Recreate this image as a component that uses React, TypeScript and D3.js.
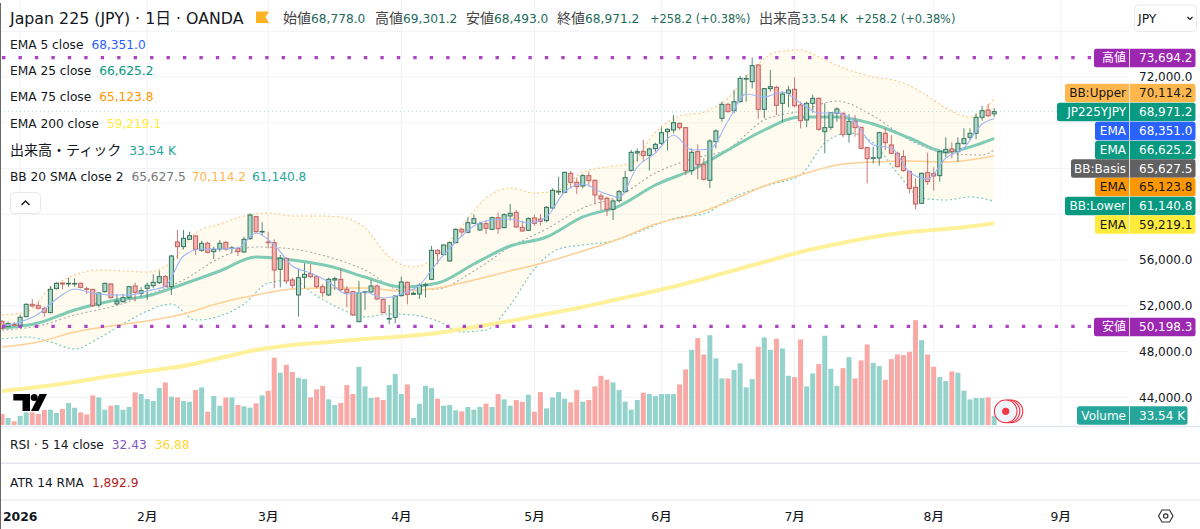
import * as d3 from 'd3'

const FONT = "'DejaVu Sans','Noto Sans CJK JP',sans-serif"
const TEXT = '#131722'
const GRID = '#f0f3f8'
const UP_FILL = '#a9d8c6'
const UP_LINE = '#35735f'
const DOWN_FILL = '#f5b1ad'
const DOWN_LINE = '#c0605f'

const opens = [
  50610, 50173, 50377, 50261, 51048, 52126, 52009, 51747, 51397, 53495, 53991, 53930, 53920, 53962, 53490, 53437, 52068, 53233, 53903, 52155,
  52359, 52738, 53728, 53088, 53525, 53758, 54020, 54544, 53670, 57575, 57167, 57808, 58100, 56847, 57458, 56730, 56963, 57546, 57020, 57021,
  56701, 57866, 59790, 58450, 57570, 57517, 55186, 56147, 54253, 52942, 54486, 54807, 54544, 53670, 52942, 54253, 54311, 53437, 53233, 50610,
  53146, 53204, 53728, 52563, 50850, 50989, 52883, 54049, 53000, 53029, 53800, 54311, 56847, 56468, 55914, 57517, 58682, 58420, 59207, 58624,
  59178, 58682, 59702, 58828, 59848, 60168, 58857, 58595, 59673, 59586, 59440, 60547, 61960, 61917, 63578, 62791, 62470, 63374, 62966, 61598,
  61394, 60432, 61190, 61977, 63842, 65357, 65473, 65153, 65736, 66202, 67222, 67368, 67950, 67571, 63812, 65473, 64337, 62967, 66347, 68387,
  69611, 69057, 69844, 71830, 71593, 73050, 69174, 70981, 71097, 69699, 70573, 70922, 69553, 68242, 69699, 70135, 67221, 67600, 68824, 68824,
  66988, 68125, 67600, 65823, 64900, 64919, 67076, 66056, 65327, 65036, 63725, 62355, 60956, 63637, 63550, 63375, 65415, 65706, 65473, 66172,
  66726, 67076, 68474, 69115, 68778,
]
const highs = [
  50756, 50610, 50581, 51193, 52213, 52592, 52359, 51922, 53728, 54049, 54020, 54457, 54399, 54020, 53670, 53466, 53175, 54020, 53962, 53029,
  53029, 53728, 54020, 53612, 54020, 54748, 55069, 54690, 56439, 58624, 58624, 58478, 58187, 57691, 57604, 57167, 57750, 57662, 57225, 57167,
  58041, 60081, 59848, 59294, 58478, 57808, 56439, 56235, 54457, 55273, 55710, 55652, 54690, 53903, 54457, 54544, 55273, 53728, 53321, 54165,
  53292, 54253, 53845, 52650, 52068, 52942, 54544, 54107, 53233, 53962, 54020, 57225, 56934, 57371, 57604, 58770, 58770, 59731, 59994, 59353,
  59498, 59790, 60139, 60081, 60897, 60372, 59440, 59731, 59964, 60023, 60722, 62267, 63286, 63724, 63782, 63199, 63520, 63724, 63053, 61831,
  61539, 61306, 62122, 63812, 65619, 65765, 66493, 65823, 66260, 67601, 67513, 68679, 68009, 67601, 65765, 66114, 64890, 66552, 67426, 69844,
  69757, 70864, 72088, 72175, 73694, 73137, 71039, 72613, 71214, 70719, 71214, 71972, 69844, 69844, 70427, 70223, 69698, 68911, 69348, 68911,
  68766, 68678, 67658, 65823, 65910, 67221, 67513, 66930, 65473, 65619, 63812, 63142, 63637, 65385, 64103, 65560, 66726, 66289, 66726, 67513,
  67513, 68824, 69465, 69640, 69301,
]
const lows = [
  49940, 50198, 50200, 50173, 50989, 51864, 51689, 51048, 51339, 53437, 53437, 53670, 53670, 53525, 53029, 51922, 51864, 53146, 52650, 52068,
  52272, 52563, 52359, 52796, 52505, 53525, 53903, 53612, 52942, 56089, 56934, 57750, 56439, 56730, 56584, 56089, 56730, 56817, 56643, 56351,
  56643, 57750, 58333, 58187, 57021, 53525, 53612, 53903, 53525, 51048, 53525, 54399, 53525, 52738, 52854, 53379, 53321, 51864, 51106, 50560,
  51630, 53146, 52505, 51339, 50377, 50465, 52796, 52126, 52942, 52592, 52738, 54253, 55623, 56409, 55856, 57458, 58041, 58333, 59149, 58537,
  58274, 58624, 58274, 58770, 59440, 58828, 58478, 58537, 59003, 59003, 59294, 60460, 61684, 61829, 62267, 61771, 62267, 62412, 60897, 60374,
  59849, 59500, 61015, 61889, 63725, 64599, 64599, 63812, 65473, 66056, 65561, 67076, 67368, 63434, 63434, 63055, 62938, 62297, 65765, 68096,
  68883, 68825, 69757, 69844, 71010, 68329, 68387, 70719, 68679, 68096, 69349, 69349, 67513, 67601, 68883, 67309, 65327, 67367, 68096, 66726,
  66260, 66784, 65677, 62705, 64453, 64249, 65619, 65269, 64103, 63725, 61831, 60432, 60898, 62559, 62064, 62850, 64978, 64890, 64599, 66114,
  66493, 66551, 68183, 68474, 68493,
]
const closes = [
  50028, 50436, 50290, 50989, 52126, 51980, 51776, 51426, 53437, 53962, 53903, 53960, 53950, 53612, 53450, 52009, 53117, 53962, 52709, 52388,
  52709, 53670, 53175, 53321, 53787, 54049, 54544, 53670, 56351, 57167, 57896, 58129, 56934, 57458, 56672, 56934, 57458, 56963, 57060, 56730,
  57808, 59935, 58478, 58500, 57530, 55127, 56147, 54165, 53787, 54457, 54748, 54544, 53670, 53146, 54311, 54370, 53408, 53146, 51193, 53146,
  53233, 53728, 52592, 51397, 50890, 52854, 54078, 53000, 53088, 53787, 53840, 56847, 56555, 57313, 57517, 58682, 58449, 59265, 59615, 59178,
  58770, 59702, 58741, 59964, 60081, 58886, 58537, 59615, 59207, 59382, 60606, 62092, 62000, 63665, 62791, 62412, 63374, 62937, 61684, 61335,
  60432, 61161, 61977, 63200, 65415, 65473, 65124, 65707, 66114, 67134, 67426, 68009, 67571, 63812, 65415, 64337, 63055, 66406, 67280, 69611,
  68970, 69844, 71884, 71870, 72991, 69174, 70981, 71156, 69524, 70515, 70864, 69495, 68183, 69699, 70136, 67425, 67571, 68882, 69203, 66959,
  68125, 67571, 65764, 64861, 64940, 67134, 66260, 65327, 64162, 63812, 62267, 60898, 63579, 62850, 63346, 65473, 65677, 65473, 66202, 66609,
  67076, 68474, 69057, 68620, 68971,
]
// volume in thousands
const volumes = [
  39.6, 25.2, 13.2, 32.4, 45.6, 45.6, 39.6, 54, 55.2, 43.2, 57.6, 79.2, 62.4, 45.6, 38.4, 106.8, 99.6, 55.2, 69.6, 72,
  55.2, 64.8, 117.6, 111.6, 93.6, 86.4, 133.2, 153.6, 102, 99.6, 86.4, 84, 126, 135.6, 48, 104.4, 69.6, 99.6, 99.6, 72,
  67.2, 62.4, 78, 106.8, 123.6, 242.4, 188.4, 217.2, 190.8, 170.4, 165.6, 99.6, 128.4, 141.6, 92.4, 72, 79.2, 144, 111.6, 210,
  139.2, 97.2, 99.6, 90, 144, 183.6, 111.6, 146.4, 25.2, 76.8, 141.6, 133.2, 94.8, 69.6, 72, 52.8, 49.2, 64.8, 55.2, 64.8,
  76.8, 64.8, 111.6, 92.4, 69.6, 90, 84, 109.2, 48, 118.8, 60, 99.6, 118.8, 94.8, 81.6, 126, 84, 90, 139.2, 177.6,
  163.2, 153.6, 126, 84, 55.2, 90, 116.4, 111.6, 104.4, 111.6, 111.6, 111.6, 146.4, 200.4, 271.2, 313.2, 254.4, 324, 240, 168,
  168, 198, 222, 135.6, 165.6, 282, 315.6, 271.2, 310.8, 276, 177.6, 172.8, 308.4, 139.2, 186, 219.6, 321.6, 202.8, 141.6, 205.2,
  244.8, 168, 232.8, 290.4, 224.4, 212.4, 163.2, 237.6, 254.4, 252, 264, 378, 306, 254.4, 210, 172.8, 158.4, 193.2, 188.4, 123.6,
  92.4, 97.2, 97.2, 99.6, 33.54,
]

// sampled every 6 bars, then the last bar
const slowIndex = [0, 6, 12, 18, 24, 30, 36, 42, 48, 54, 60, 66, 72, 78, 84, 90, 96, 102, 108, 114, 120, 126, 132, 138, 144, 150, 156, 162, 164]
const ema200 = [44547, 44897, 45334, 45858, 46295, 46733, 47432, 48132, 48569, 48831, 49093, 49312, 49618, 50142, 50667, 51279, 51891, 52590, 53290, 54077, 54951, 55825, 56700, 57399, 58011, 58448, 58711, 59060, 59219]
const ema75 = [48394, 48831, 49705, 50230, 50667, 51279, 52241, 52940, 53465, 53552, 53552, 53290, 53552, 54252, 55038, 55825, 56787, 57836, 59148, 59935, 61071, 62470, 63432, 64306, 64568, 64656, 64568, 64918, 65124]
const ema25 = [50055, 50492, 51629, 52416, 52853, 53902, 55038, 56262, 56000, 55476, 54514, 53640, 53989, 55650, 57224, 58011, 59760, 60721, 62557, 63869, 65617, 67366, 68503, 68503, 67891, 66667, 65443, 66230, 66625]
const bbBasis = [49880, 50230, 51192, 51891, 52940, 54252, 56175, 57137, 56962, 56262, 55126, 53377, 53465, 55038, 57137, 58711, 60547, 61596, 63607, 64831, 65705, 68240, 69027, 69902, 68590, 66492, 65355, 65180, 65628]

// sampled every 4 bars
const bandIndex = d3.range(0, 165, 4)
const bbUpper = [51192, 51454, 53552, 54689, 55126, 55038, 54951, 55825, 58361, 59148, 59847, 60109, 59847, 59847, 59760, 58798, 56262, 55388, 56437, 58973, 61421, 62295, 61858, 62120, 63694, 64131, 64481, 67191, 68590, 68940, 70164, 72612, 74186, 74360, 73486, 72612, 72000, 71650, 70688, 69290, 68503, 70114]
const bbLower = [49093, 49268, 48831, 48219, 49181, 50405, 51541, 52153, 50754, 51104, 52153, 53989, 54252, 52853, 51716, 51017, 51279, 51192, 50667, 49705, 49880, 52066, 55213, 56962, 57312, 57574, 58186, 59060, 59760, 60022, 61246, 62120, 62732, 63432, 66230, 67104, 66230, 63607, 61421, 61246, 61509, 61141]

// sampled every 3 bars, then the last bar
const fastIndex = [...d3.range(0, 163, 3), 164]
const ema5 = [50230, 50580, 51279, 52590, 53465, 53115, 52940, 52940, 53290, 53727, 56350, 56962, 56962, 57049, 58361, 57312, 55476, 54864, 54077, 53028, 53202, 52678, 53028, 53814, 55825, 57574, 58973, 59497, 59585, 59235, 59760, 61945, 62645, 61945, 61509, 64131, 65355, 66929, 65617, 65705, 68153, 70514, 70251, 70688, 69727, 68852, 68852, 68066, 66055, 65792, 63694, 63082, 64918, 65792, 67891, 68351]

// the other round prices sit behind the badges, so only these show a label
const priceTicks = [44000, 48000, 52000, 56000, 72000]
const gridPrices = [44000, 48000, 52000, 56000, 60000, 64000, 68000, 72000, 76000]
const monthBars = [3, 24, 44, 66, 88, 109, 131, 154, 175]
const monthLabels = ['2026', '2月', '3月', '4月', '5月', '6月', '7月', '8月', '9月']

const legendRows = [
  { label: 'EMA 5 close', value: '68,351.0', color: '#2962ff', y: 44 },
  { label: 'EMA 25 close', value: '66,625.2', color: '#089981', y: 70.5 },
  { label: 'EMA 75 close', value: '65,123.8', color: '#ff9800', y: 96.5 },
  { label: 'EMA 200 close', value: '59,219.1', color: '#ffeb3b', y: 123 },
]
const headerItems = [
  { label: '始値', value: '68,778.0', x: 283 },
  { label: '高値', value: '69,301.2', x: 375 },
  { label: '安値', value: '68,493.0', x: 466 },
  { label: '終値', value: '68,971.2', x: 557 },
  { label: '出来高', value: '33.54 K', x: 759 },
]
const priceLabels = [
  { name: '高値', value: '73,694.2', y: 58, left: 1094, fill: '#9c27b0', ink: '#fff' },
  { name: 'BB:Upper', value: '70,114.2', y: 93, left: 1065, fill: '#ffb74d', ink: TEXT },
  { name: 'JP225YJPY', value: '68,971.2', y: 112, left: 1057, fill: '#089981', ink: '#fff' },
  { name: 'EMA', value: '68,351.0', y: 131, left: 1095, fill: '#2962ff', ink: '#fff' },
  { name: 'EMA', value: '66,625.2', y: 150, left: 1095, fill: '#089981', ink: '#fff' },
  { name: 'BB:Basis', value: '65,627.5', y: 168.5, left: 1071, fill: '#616161', ink: '#fff' },
  { name: 'EMA', value: '65,123.8', y: 187, left: 1095, fill: '#ff9800', ink: TEXT },
  { name: 'BB:Lower', value: '61,140.8', y: 206, left: 1065, fill: '#089981', ink: '#fff' },
  { name: 'EMA', value: '59,219.1', y: 224.5, left: 1095, fill: '#ffeb3b', ink: TEXT },
  { name: '安値', value: '50,198.3', y: 327, left: 1094, fill: '#9c27b0', ink: '#fff' },
]

const x = d3.scaleLinear().domain([0, 164]).range([2, 994.2])
const y = d3.scaleLinear().domain([44000, 72000]).range([397.25, 77])
const volumeY = d3.scaleLinear().domain([0, 33.54]).range([425, 415.7])

function pathOf(index: number[], values: number[]) {
  const line = d3
    .line<number>()
    .x((i) => x(i))
    .y((_, n) => y(values[n]))
    .curve(d3.curveMonotoneX)
  return line(index) ?? ''
}

const bandArea =
  d3
    .area<number>()
    .x((i) => x(i))
    .y0((_, n) => y(bbLower[n]))
    .y1((_, n) => y(bbUpper[n]))
    .curve(d3.curveMonotoneX)(bandIndex) ?? ''

function DottedLevel({ price }: { price: number }) {
  return (
    <line
      x1={2}
      x2={1094}
      y1={y(price)}
      y2={y(price)}
      stroke="#ad45c2"
      strokeWidth={3.4}
      strokeDasharray="3.4 13.05"
    />
  )
}

function AxisBadge({ name, value, cy, left, fill, ink, right = 1195.5 }: {
  name: string
  value: string
  cy: number
  left: number
  fill: string
  ink: string
  right?: number
}) {
  return (
    <g fontSize={12}>
      <rect x={left} y={cy - 9.2} width={right - left} height={18.4} rx={2.5} fill={fill} />
      <line x1={1129.5} x2={1129.5} y1={cy - 9.2} y2={cy + 9.2} stroke="#fff" strokeOpacity={0.8} />
      <text x={1126} y={cy + 4.4} textAnchor="end" fill={ink}>{name}</text>
      <text x={1139} y={cy + 4.4} fill={ink}>{value}</text>
    </g>
  )
}

export default function App() {
  return (
    <svg
      width={1200}
      height={529}
      style={{ position: 'fixed', left: 0, top: 0, background: '#fff', fontFamily: FONT }}
    >
      {/* grid */}
      {gridPrices.map((p) => (
        <line key={p} x1={0} x2={1129} y1={y(p)} y2={y(p)} stroke={GRID} />
      ))}
      {monthBars.map((b) => (
        <line key={b} x1={x(b)} x2={x(b)} y1={0} y2={426} stroke={GRID} />
      ))}

      {/* volume */}
      {volumes.map((v, i) => (
        <rect
          key={i}
          x={x(i) - 2.5}
          y={volumeY(v)}
          width={5}
          height={425 - volumeY(v)}
          fill={closes[i] < opens[i] ? '#f8a9a6' : '#93d3cb'}
        />
      ))}

      {/* bollinger */}
      <path d={bandArea} fill="#ffeb99" fillOpacity={0.16} />
      <path d={pathOf(bandIndex, bbUpper)} fill="none" stroke="#ffc680" strokeWidth={1.1} strokeDasharray="2 2.5" />
      <path d={pathOf(bandIndex, bbLower)} fill="none" stroke="#6fc6b4" strokeWidth={1.1} strokeDasharray="2 2.5" />
      <path d={pathOf(slowIndex, bbBasis)} fill="none" stroke="#a8a8a8" strokeWidth={1.1} strokeDasharray="2 2.5" />

      {/* moving averages */}
      <path d={pathOf(slowIndex, ema200)} fill="none" stroke="#fff09a" strokeWidth={4} />
      <path d={pathOf(slowIndex, ema75)} fill="none" stroke="#ffcf96" strokeWidth={1.5} />
      <path d={pathOf(slowIndex, ema25)} fill="none" stroke="#7fcbb5" strokeWidth={3} />

      {/* last price */}
      <line x1={0} x2={1057} y1={y(68971)} y2={y(68971)} stroke="#a8dfd4" strokeDasharray="1 3" />

      {/* candles */}
      {opens.map((o, i) => {
        const down = closes[i] < o
        const top = Math.min(y(o), y(closes[i]))
        const h = Math.max(Math.abs(y(o) - y(closes[i])), 0.6)
        const ink = down ? DOWN_LINE : UP_LINE
        return (
          <g key={i}>
            <line x1={x(i)} x2={x(i)} y1={y(highs[i])} y2={y(lows[i])} stroke={ink} strokeOpacity={0.85} />
            <rect
              x={x(i) - 2}
              y={top}
              width={4}
              height={h}
              fill={down ? DOWN_FILL : UP_FILL}
              stroke={ink}
            />
          </g>
        )
      })}

      <path d={pathOf(fastIndex, ema5)} fill="none" stroke="#9db6fb" strokeWidth={1.1} />

      <DottedLevel price={73694.2} />
      <DottedLevel price={50198.3} />

      {/* tradingview mark */}
      <g fill="#000">
        <path d="M13.3 394H30V411H22.5V400.5H13.3Z" />
        <circle cx={34.2} cy={397.4} r={3.5} />
        <path d="M39.5 394H47L38.5 411H31Z" />
      </g>

      {/* live dot */}
      <g fill="#f0f3fa" stroke="#f23645" strokeWidth={1.1}>
        <circle cx={1011.5} cy={411.3} r={11.3} />
        <circle cx={1008.5} cy={411.3} r={11.3} />
        <circle cx={1005.7} cy={411.3} r={11.3} />
      </g>
      <circle cx={1005.7} cy={411.3} r={3.6} fill="#f23645" />

      {/* pane separators */}
      <line x1={0} x2={1200} y1={426.5} y2={426.5} stroke="#e4e6ee" strokeWidth={1.6} />
      <line x1={0} x2={1200} y1={463.3} y2={463.3} stroke="#e4e6ee" strokeWidth={1.4} />
      <line x1={0} x2={1200} y1={500} y2={500} stroke="#e4e6ee" />
      <line x1={0.5} x2={0.5} y1={3} y2={529} stroke="#6a6a6a" />

      {/* price axis */}
      {priceTicks.map((p) => (
        <text key={p} x={1139} y={y(p) + 4.4} fontSize={12} fill={TEXT}>
          {d3.format(',.1f')(p)}
        </text>
      ))}
      {priceLabels.map((l, i) => (
        <AxisBadge key={i} name={l.name} value={l.value} cy={l.y} left={l.left} fill={l.fill} ink={l.ink} />
      ))}
      <AxisBadge name="Volume" value="33.54 K" cy={415.5} left={1077} fill="#26a69a" ink="#fff" right={1187.5} />

      {/* header */}
      <text x={10} y={23.5} fontSize={15.8} fill={TEXT}>Japan 225 (JPY) · 1日 · OANDA</text>
      <path d="M256 11.5H269L265.5 17L269 23H256Z" fill="#ffb224" />
      <g fontSize={12.2}>
        {headerItems.map((h) => (
          <text key={h.label} x={h.x} y={22.5}>
            <tspan fill="#444" fontSize={14}>{h.label}</tspan>
            <tspan fill="#1d6a58">{h.value}</tspan>
          </text>
        ))}
        <text x={650} y={22.5} fill="#1d6a58" fontSize={11.4}>+258.2 (+0.38%)</text>
        <text x={855} y={22.5} fill="#1d6a58" fontSize={11.4}>+258.2 (+0.38%)</text>
      </g>

      {/* legend */}
      <g fontSize={12.2} fill={TEXT}>
        {legendRows.map((r) => (
          <text key={r.label} x={10} y={r.y + 4.5}>
            {r.label}
            <tspan dx={8} fill={r.color}>{r.value}</tspan>
          </text>
        ))}
        <text x={10} y={154.5}>
          <tspan fontSize={14}>出来高・ティック</tspan>
          <tspan dx={8} fill="#26a69a">33.54 K</tspan>
        </text>
        <text x={10} y={180.5}>
          BB 20 SMA close 2
          <tspan dx={8} fill="#787878">65,627.5</tspan>
          <tspan dx={6} fill="#ffb74d">70,114.2</tspan>
          <tspan dx={6} fill="#26a69a">61,140.8</tspan>
        </text>
        <text x={10} y={449}>
          RSI · 5 14 close
          <tspan dx={8} fill="#7e57c2">32.43</tspan>
          <tspan dx={8} fill="#fdd835">36.88</tspan>
        </text>
        <text x={10} y={486.5}>
          ATR 14 RMA
          <tspan dx={8} fill="#b71c1c">1,892.9</tspan>
        </text>
      </g>
      <rect x={10.5} y={192.5} width={30} height={21} rx={4} fill="#fff" stroke="#e6e8ee" />
      <path d="M21.5 205L25.5 201L29.5 205" fill="none" stroke={TEXT} strokeWidth={1.4} />

      {/* currency box */}
      <rect x={1134.5} y={5} width={62} height={26.5} rx={4} fill="#fff" stroke="#e6e8ee" />
      <text x={1138} y={22.5} fontSize={12.4} fill={TEXT}>JPY</text>
      <path d="M1187.5 17L1190 19.5L1192.5 17" fill="none" stroke={TEXT} strokeWidth={1.2} />

      {/* time axis */}
      {monthLabels.map((m, i) => (
        <text
          key={m}
          x={x(monthBars[i])}
          y={521}
          textAnchor="middle"
          fontSize={12.4}
          fontWeight={i === 0 ? 700 : 500}
          fill={TEXT}
        >
          {m}
        </text>
      ))}
      <path
        d="M1158.5 516L1162 510H1169.5L1173 516L1169.5 522H1162Z"
        fill="none"
        stroke="#333"
        strokeWidth={1.2}
      />
      <circle cx={1165.7} cy={516} r={2.2} fill="none" stroke="#333" strokeWidth={1.2} />
    </svg>
  )
}
